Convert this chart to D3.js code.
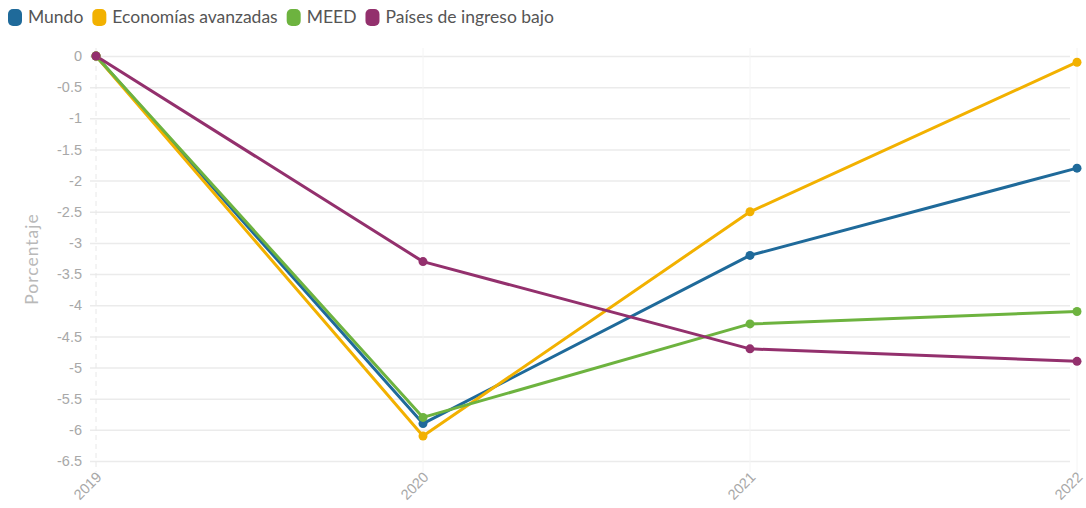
<!DOCTYPE html>
<html><head><meta charset="utf-8">
<script src="https://cdn.jsdelivr.net/npm/d3@7"></script>
<style>body{margin:0;background:#fff;}svg{display:block;font-family:Lato,"Open Sans",sans-serif;}</style>
</head><body><svg id="c" width="1086" height="508"></svg>
<script>
const years = ["2019","2020","2021","2022"];
const seriesNames = ["Mundo","Economías avanzadas","MEED","Países de ingreso bajo"];
const seriesColors = ["#1f6a9a","#f2b100","#6db33f","#93306d"];
const mundo = [0,-5.9,-3.2,-1.8];
const avanzadas = [0,-6.1,-2.5,-0.1];
const meed = [0,-5.8,-4.3,-4.1];
const bajo = [0,-3.3,-4.7,-4.9];
const yTicks = [0,-0.5,-1,-1.5,-2,-2.5,-3,-3.5,-4,-4.5,-5,-5.5,-6,-6.5];
const yTitle = "Porcentaje";

const allSeries = [mundo, avanzadas, meed, bajo];
const svg = d3.select("#c");
const x = d3.scalePoint().domain(years).range([96,1077]);
const y = d3.scaleLinear().domain([-6.5,0]).range([461,56]);

// horizontal grid
const yAxis = d3.axisLeft(y).tickValues(yTicks).tickSize(-(1070-90)).tickFormat(d=>String(d)).tickPadding(8);
const gy = svg.append("g").attr("transform","translate(90,0)").call(yAxis);
gy.select(".domain").remove();
gy.selectAll(".tick line").attr("stroke","#ebebeb").attr("stroke-width",1.5);
gy.selectAll(".tick text").attr("fill","#a8a8a8").attr("font-size",14.5);

// vertical grid
const xAxis = d3.axisBottom(x).tickSize(0).tickPadding(0);
const gx = svg.append("g");
gx.selectAll("line").data(years).enter().append("line")
  .attr("x1",d=>x(d)).attr("x2",d=>x(d)).attr("y1",48).attr("y2",472)
  .attr("stroke",d=>d==="2019"?"#e8e8e8":"#f4f4f4").attr("stroke-width",1).attr("stroke-dasharray",d=>d==="2019"?"5,4":null);
const gxa = svg.append("g").attr("transform","translate(0,466)").call(xAxis);
gxa.select(".domain").remove();
gxa.selectAll(".tick text").attr("fill","#a8a8a8").attr("font-size",14.5)
  .attr("text-anchor","end").attr("dy",0).attr("transform","translate(6,12) rotate(-45)");

// y title
svg.append("text").attr("transform","translate(38,259) rotate(-90)").attr("text-anchor","middle")
  .attr("fill","#b9b9b9").attr("font-size",17.5).attr("letter-spacing",1).text(yTitle);

// lines
const line = d3.line().x((d,i)=>x(years[i])).y(d=>y(d));
allSeries.forEach((s,k)=>{
  svg.append("path").datum(s).attr("d",line).attr("fill","none")
    .attr("stroke",seriesColors[k]).attr("stroke-width",3).attr("stroke-linejoin","round");
});
allSeries.forEach((s,k)=>{
  svg.append("g").selectAll("circle").data(s).enter().append("circle")
    .attr("cx",(d,i)=>x(years[i])).attr("cy",d=>y(d)).attr("r",4.5).attr("fill",seriesColors[k]);
});

// legend
const leg = svg.append("g").attr("transform","translate(8,0)");
let lx = 0;
seriesNames.forEach((n,k)=>{
  const g = leg.append("g").attr("transform",`translate(${lx},0)`);
  g.append("rect").attr("x",0).attr("y",9).attr("width",14).attr("height",17).attr("rx",5).attr("fill",seriesColors[k]);
  const t = g.append("text").attr("x",20).attr("y",23).attr("font-size",17.5).attr("fill","#555").text(n);
  lx += 20 + t.node().getComputedTextLength() + 9;
});
</script></body></html>
